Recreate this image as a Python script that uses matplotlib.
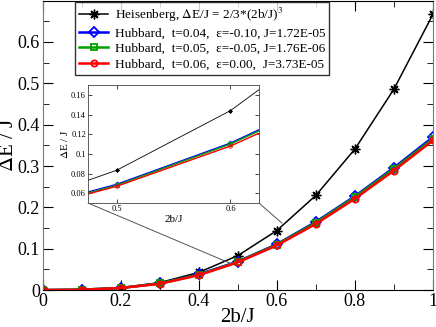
import matplotlib
matplotlib.use("Agg")
import matplotlib.pyplot as plt
from matplotlib.patches import ConnectionPatch

plt.rcParams['font.family'] = ['Liberation Serif', 'DejaVu Serif']
plt.rcParams['mathtext.fontset'] = 'stix'

# data
x = [0.0, 0.1, 0.2, 0.3, 0.4, 0.5, 0.6, 0.7, 0.8, 0.9, 1.0]
heis = [0.0, 0.0007, 0.0053, 0.018, 0.0427, 0.0833, 0.144, 0.229, 0.341, 0.486, 0.667]
hub_04 = [0.0, 0.0009, 0.005, 0.016, 0.038, 0.069, 0.111, 0.165, 0.227, 0.296, 0.370]
hub_05 = [0.0, 0.0009, 0.005, 0.016, 0.037, 0.068, 0.110, 0.163, 0.225, 0.293, 0.366]
hub_06 = [0.0, 0.0008, 0.005, 0.015, 0.036, 0.067, 0.108, 0.160, 0.221, 0.289, 0.362]
labels = [r"Heisenberg, $\Delta$E/J = 2/3*(2b/J)$^3$",
          "Hubbard,  t=0.04,  ε=-0.10, J=1.72E-05",
          "Hubbard,  t=0.05,  ε=-0.05, J=1.76E-06",
          "Hubbard,  t=0.06,  ε=0.00,  J=3.73E-05"]
xticks = [0, 0.2, 0.4, 0.6, 0.8, 1.0]
xticklabels = ["0", "0.2", "0.4", "0.6", "0.8", "1"]
yticks = [0, 0.1, 0.2, 0.3, 0.4, 0.5, 0.6]
yticklabels = ["0", "0.1", "0.2", "0.3", "0.4", "0.5", "0.6"]

fig = plt.figure(figsize=(4.36, 3.27), dpi=100)
ax = fig.add_axes([0.098, 0.113, 0.895, 0.885])

ax.plot(x, heis, color="black", lw=1.1, marker=(8, 2, 0), ms=7, mew=1, label=labels[0])
ax.plot(x, hub_04, color="blue", lw=1.8, marker="D", ms=5, mfc="none", mew=1.3, label=labels[1])
ax.plot(x, hub_05, color="#00a000", lw=1.8, marker="s", ms=5, mfc="none", mew=1.3, label=labels[2])
ax.plot(x, hub_06, color="red", lw=1.8, marker="o", ms=4.5, mfc="none", mew=1.3, label=labels[3])

ax.set_xlim(0, 1)
ax.set_ylim(0, 0.7)
ax.set_xticks(xticks)
ax.set_xticklabels(xticklabels)
ax.set_yticks(yticks)
ax.set_yticklabels(yticklabels)
ax.set_xticks([0.1, 0.3, 0.5, 0.7, 0.9], minor=True)
ax.set_yticks([0.05, 0.15, 0.25, 0.35, 0.45, 0.55, 0.65], minor=True)
ax.tick_params(which="both", direction="in", top=True, right=True, labelsize=13, pad=2)
ax.tick_params(which="major", length=7)
ax.tick_params(which="minor", length=4)
ax.set_xlabel("2b/J", fontsize=15, labelpad=-1)
ax.set_ylabel(r"$\Delta$E / J", fontsize=15, labelpad=0)
for s in ["left", "right"]:
    ax.spines[s].set_color("#777777")

leg = ax.legend(loc="upper left", bbox_to_anchor=(0.08, 1.0), fontsize=9.5, frameon=True,
                fancybox=False, edgecolor="black", handlelength=2.2, handletextpad=0.5,
                borderpad=0.3, labelspacing=0.25, borderaxespad=0.1)
leg.get_frame().set_linewidth(1.0)

# inset
ins = fig.add_axes([0.202, 0.379, 0.392, 0.361])
ins.plot(x, heis, color="black", lw=0.6, marker=(8, 2, 0), ms=3, mew=0.5)
ins.plot(x, hub_04, color="blue", lw=1.0, marker="D", ms=2.5, mfc="none", mew=0.6)
ins.plot(x, hub_05, color="#00a000", lw=1.0, marker="s", ms=2.5, mfc="none", mew=0.6)
ins.plot(x, hub_06, color="red", lw=1.0, marker="o", ms=2.5, mfc="none", mew=0.6)
ins.set_xlim(0.475, 0.625)
ins.set_ylim(0.05, 0.17)
ins.set_xticks([0.5, 0.6])
ins.set_xticklabels(["0.5", "0.6"])
ins.set_yticks([0.06, 0.08, 0.1, 0.12, 0.14, 0.16])
ins.set_yticklabels(["0.06", "0.08", "0.1", "0.12", "0.14", "0.16"])
ins.tick_params(direction="in", top=True, right=True, labelsize=6, length=3, pad=1.5, width=0.5)
ins.set_xlabel("2b/J", fontsize=8, labelpad=1)
ins.set_ylabel(r"$\Delta$E / J", fontsize=8, labelpad=1)
for s in ins.spines.values():
    s.set_linewidth(0.6)
    s.set_color("#444444")

for corner, target in [((0, 0), (0.48, 0.065)), ((1, 0), (0.613, 0.162))]:
    con = ConnectionPatch(xyA=corner, coordsA=ins.transAxes, xyB=target, coordsB=ax.transData,
                          color="#555555", lw=0.7)
    fig.add_artist(con)

fig.savefig("out.png", dpi=100)
